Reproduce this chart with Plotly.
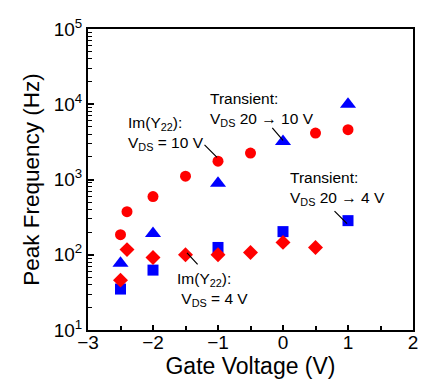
import math
import plotly.graph_objects as go

FONT = "Liberation Sans, Arial, Helvetica, sans-serif"

# Data
gate_circles = [-2.5, -2.4, -2.0, -1.5, -1.0, -0.5, 0.5, 1.0]
freq_circles = [185, 374, 593, 1107, 1754, 2244, 4140, 4590]   # Im(Y22), VDS = 10 V

gate_triangles = [-2.5, -2.0, -1.0, 0.0, 1.0]
freq_triangles = [77, 192, 893, 3210, 10000]                    # Transient 20 -> 10 V

gate_squares = [-2.5, -2.0, -1.0, 0.0, 1.0]
freq_squares = [35, 62.5, 125, 203, 284]                        # Transient 20 -> 4 V

gate_diamonds = [-2.5, -2.4, -2.0, -1.5, -1.0, -0.5, 0.0, 0.5]
freq_diamonds = [46, 117, 92, 100, 100, 107, 146, 125]           # Im(Y22), VDS = 4 V

x_ticks = [-3, -2, -1, 0, 1, 2]
x_ticktext = ["\u22123", "\u22122", "\u22121", "0", "1", "2"]
y_ticks = [1e1, 1e2, 1e3, 1e4, 1e5]
y_ticktext = ["10<sup>1</sup>", "10<sup>2</sup>", "10<sup>3</sup>", "10<sup>4</sup>", "10<sup>5</sup>"]
y_minor = [m * 10 ** d for d in range(1, 5) for m in range(2, 10)]

RED = "#ff0000"
BLUE = "#0000ff"

fig = go.Figure()
fig.add_trace(go.Scatter(x=gate_circles, y=freq_circles, mode="markers",
                         marker=dict(symbol="circle", size=11, color=RED, line=dict(width=0))))
fig.add_trace(go.Scatter(x=gate_triangles, y=freq_triangles, mode="markers",
                         marker=dict(symbol="triangle-up", size=14, color=BLUE, line=dict(width=0))))
fig.add_trace(go.Scatter(x=gate_squares, y=freq_squares, mode="markers",
                         marker=dict(symbol="square", size=11, color=BLUE, line=dict(width=0))))
fig.add_trace(go.Scatter(x=gate_diamonds, y=freq_diamonds, mode="markers",
                         marker=dict(symbol="diamond", size=11.5, color=RED, line=dict(width=0))))

L = math.log10
ann_font = dict(family=FONT, size=15.5, color="black")


def label(x, y, text):
    return dict(x=x, y=L(y), text=text, xanchor="left", yanchor="middle", align="left",
                showarrow=False, font=ann_font, borderpad=0)


def pointer(x, y, ax, ay):
    return dict(x=x, y=L(y), ax=ax, ay=ay, text="", showarrow=True, arrowhead=0,
                arrowwidth=1.2, arrowcolor="black", standoff=0, startstandoff=0)


annotations = [
    label(-1.14, 8576, "Transient:<br>V<sub>DS</sub> 20 \u2192 10 V"),
    label(-2.40, 4105, "Im(Y<sub>22</sub>):<br>V<sub>DS</sub> = 10 V"),
    label(0.09, 759, "Transient:<br>V<sub>DS</sub> 20 \u2192 4 V"),
    label(-1.65, 34.1, "Im(Y<sub>22</sub>):<br>\u00a0V<sub>DS</sub> = 4 V"),
    pointer(-1.015, 1965, -14, -14),
    pointer(0.0, 3311, -12, -14),
    pointer(0.985, 259, -14, -14),
    pointer(-1.477, 106, 12, 13),
]

# the page body has an 8 px margin, so the figure is 8 px smaller each way
fig.update_layout(
    width=425, height=380,
    margin=dict(l=80, r=20, t=21, b=58),
    paper_bgcolor="white", plot_bgcolor="white",
    showlegend=False,
    font=dict(family=FONT, color="black"),
    annotations=annotations,
)

fig.update_xaxes(
    range=[-3, 2], tickvals=x_ticks, ticktext=x_ticktext, automargin=False,
    showgrid=False, zeroline=False,
    showline=True, linecolor="black", linewidth=2, mirror=True,
    ticks="inside", ticklen=5, tickwidth=1.5, tickcolor="black",
    minor=dict(ticks="inside", ticklen=4, tickwidth=1.5, tickcolor="black", dtick=0.5, showgrid=False),
    tickfont=dict(family=FONT, size=19, color="black"),
    ticklabelstandoff=-6,
    title=dict(text="Gate Voltage (V)", font=dict(family=FONT, size=23, color="black"), standoff=0),
)

fig.update_yaxes(
    type="log", range=[1, 5], tickvals=y_ticks, ticktext=y_ticktext, automargin=False,
    showgrid=False, zeroline=False,
    showline=True, linecolor="black", linewidth=2, mirror=True,
    ticks="inside", ticklen=6, tickwidth=1.5, tickcolor="black",
    minor=dict(ticks="inside", ticklen=3.5, tickwidth=1, tickcolor="black", showgrid=False,
               tickmode="array", tickvals=y_minor),
    tickfont=dict(family=FONT, size=19, color="black"),
    title=dict(text="Peak Frequency (Hz)", font=dict(family=FONT, size=22.5, color="black"), standoff=8),
)

fig.write_html("out.html")
